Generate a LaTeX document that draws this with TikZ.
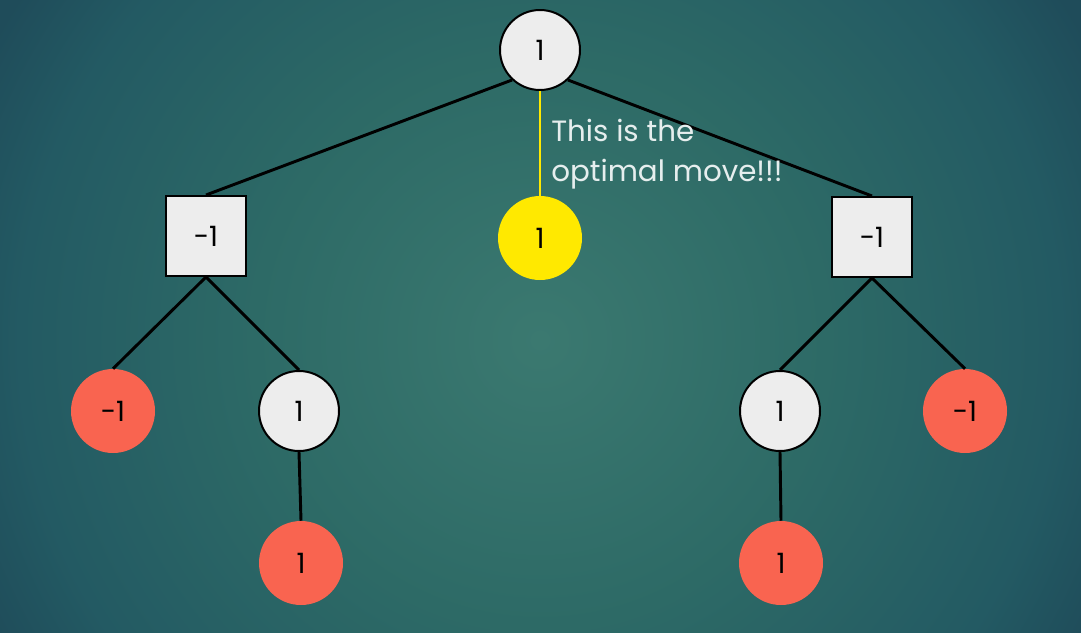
\documentclass[tikz,border=0pt]{standalone}
\usepackage{fontspec}
\setmainfont{Poppins}
\definecolor{bgin}{HTML}{3B7970}
\definecolor{bgmid}{HTML}{2D6A66}
\definecolor{bgedge}{HTML}{235A63}
\definecolor{bgout}{HTML}{1F4C5A}
\definecolor{nodegray}{HTML}{EDEDED}
\definecolor{nodered}{HTML}{F96450}
\definecolor{nodeyellow}{HTML}{FFE900}
\definecolor{notetext}{HTML}{E6EEEE}
\pgfdeclareradialshading{bgshade}{\pgfpoint{0bp}{0bp}}{color(0bp)=(bgin); color(11bp)=(bgmid); color(20bp)=(bgedge); color(24bp)=(bgout); color(50bp)=(bgout)}
\tikzset{
  wcirc/.style={circle,draw=black,line width=1.5pt,fill=nodegray,minimum size=60pt,inner sep=0pt,font=\fontsize{21}{21}\selectfont},
  rcirc/.style={circle,fill=nodered,minimum size=63pt,inner sep=0pt,font=\fontsize{21}{21}\selectfont},
  ycirc/.style={circle,fill=nodeyellow,minimum size=63pt,inner sep=0pt,font=\fontsize{21}{21}\selectfont},
  sqbox/.style={rectangle,draw=black,line width=1.5pt,fill=nodegray,minimum size=60pt,inner sep=0pt,font=\fontsize{21}{21}\selectfont},
  edge/.style={line width=2.2pt,black},
  bestedge/.style={line width=2pt,nodeyellow}
}
\begin{document}
\begin{tikzpicture}[x=0.75pt,y=-0.75pt]
\begin{scope}
\clip (0,0) rectangle (1081,632);
\shade[shading=bgshade] (-110,-310) rectangle (1190,990);
\end{scope}
\useasboundingbox (0,0) rectangle (1081,632);
\node[wcirc] (root) at (540,50) {1};
\node[sqbox] (lsq) at (206,236) {-1};
\node[ycirc] (mid) at (540,238) {1};
\node[sqbox] (rsq) at (872,237) {-1};
\node[rcirc] (lred) at (113,411) {-1};
\node[wcirc] (lw) at (299,411) {1};
\node[rcirc] (lbot) at (301,563) {1};
\node[wcirc] (rw) at (780,411) {1};
\node[rcirc] (rred) at (965,411) {-1};
\node[rcirc] (rbot) at (781,563) {1};
\draw[edge] (root.227) -- (lsq.north);
\draw[edge] (root.313) -- (rsq.north);
\draw[bestedge] (root.south) -- (mid.north);
\draw[edge] (lsq.south) -- (lred.north);
\draw[edge] (lsq.south) -- (lw.north);
\draw[edge] (lw.south) -- (lbot.north);
\draw[edge] (rsq.south) -- (rw.north);
\draw[edge] (rsq.south) -- (rred.north);
\draw[edge] (rw.south) -- (rbot.north);
\node[anchor=north west,align=left,text=notetext,inner sep=0pt,font=\fontsize{22}{30}\selectfont] (note) at (551,119) {This is the\\optimal move!!!};
\end{tikzpicture}
\end{document}
